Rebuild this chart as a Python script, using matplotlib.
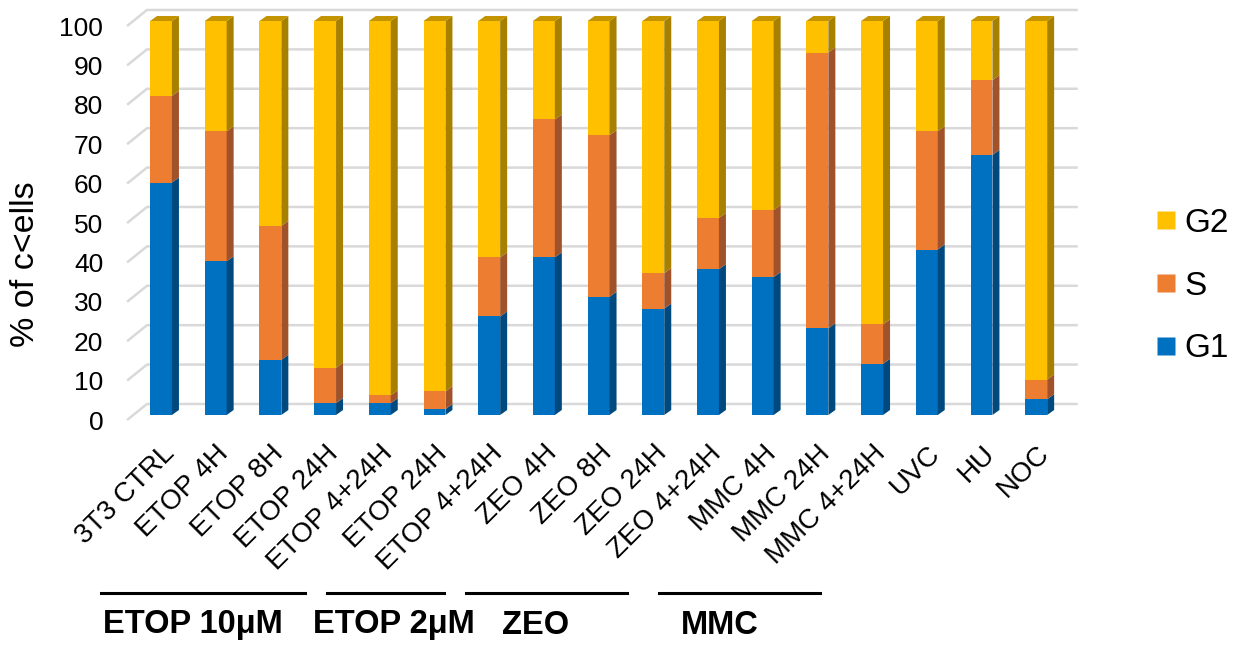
import numpy as np
import matplotlib
matplotlib.use("Agg")
import matplotlib.pyplot as plt
from matplotlib.patches import Polygon
from matplotlib.lines import Line2D

plt.rcParams['font.family'] = ['Liberation Sans', 'DejaVu Sans']

categories = ['3T3 CTRL', 'ETOP 4H', 'ETOP 8H', 'ETOP 24H', 'ETOP 4+24H',
              'ETOP 24H', 'ETOP 4+24H', 'ZEO 4H', 'ZEO 8H', 'ZEO 24H',
              'ZEO 4+24H', 'MMC 4H', 'MMC 24H', 'MMC 4+24H', 'UVC', 'HU', 'NOC']
g1 = [59, 39, 14, 3, 3, 1.5, 25, 40, 30, 27, 37, 35, 22, 13, 42, 66, 4]
s = [22, 33, 34, 9, 2, 4.5, 15, 35, 41, 9, 13, 17, 70, 10, 30, 19, 5]
g2 = [19, 28, 52, 88, 95, 94, 60, 25, 29, 64, 50, 48, 8, 77, 28, 15, 91]
series_names = ['G1', 'S', 'G2']
yticks = np.arange(0, 101, 10)
groups = ['ETOP 10\u03bcM', 'ETOP 2\u03bcM', 'ZEO', 'MMC']

# front / side / top face colours per series
front = ['#0070C0', '#ED7D31', '#FFC000']
side = ['#00497E', '#A0522A', '#A88000']
top = ['#00579A', '#B85F22', '#C49400']

W, H = 1243, 645
fig = plt.figure(figsize=(W / 100, H / 100), dpi=100)
ax = fig.add_axes([120 / W, 1 - 425 / H, 965 / W, 420 / H])
ax.set_xlim(-0.7495, 16.892)
ax.set_ylim(-2.538, 104.06)
for sp in ax.spines.values():
    sp.set_visible(False)

bw = 0.40     # bar front width
dx = 0.128    # depth offset x
dy = 1.27     # depth offset y

# back wall gridlines with the little diagonal on the left wall
for v in yticks:
    ax.plot([-0.62, -0.256, 16.76], [v - 1.27, v + 2.8, v + 2.8],
            color='#D9D9D9', lw=1.8, zorder=0, solid_capstyle='butt')

x = np.arange(len(categories))
data = [g1, s, g2]
bottom = np.zeros(len(categories))
for k, vals in enumerate(data):
    vals = np.array(vals, dtype=float)
    ax.bar(x, vals, bw, bottom=bottom, color=front[k], zorder=3,
           label=series_names[k])
    for i in range(len(x)):
        b, t = bottom[i], bottom[i] + vals[i]
        xr = x[i] + bw / 2
        ax.add_patch(Polygon([(xr, b), (xr + dx, b + dy), (xr + dx, t + dy), (xr, t)],
                             closed=True, facecolor=side[k], edgecolor='none', zorder=3))
        if k == len(data) - 1:
            xl = x[i] - bw / 2
            ax.add_patch(Polygon([(xl, t), (xl + dx, t + dy), (xr + dx, t + dy), (xr, t)],
                                 closed=True, facecolor=top[k], edgecolor='none',
                                 zorder=3, clip_on=False))
    bottom += vals

ax.set_yticks(yticks - 1.3)
ax.set_yticklabels([str(v) for v in yticks], fontsize=19)
ax.tick_params(axis='y', length=0, pad=12)
ax.set_xticks(x)
ax.set_xticklabels(categories, fontsize=20, rotation=45, ha='right',
                   rotation_mode='anchor')
ax.tick_params(axis='x', length=0, pad=11)

fig.text(26 / W, 1 - 264 / H, '% of c<ells', rotation=90, fontsize=24.5,
         ha='center', va='center')

# legend (reverse order like the original)
handles = [Line2D([], [], marker='s', ls='none', markersize=13,
                  markerfacecolor=front[k], markeredgecolor='none')
           for k in range(3)][::-1]
fig.legend(handles, series_names[::-1], loc='center left',
           bbox_to_anchor=(1154 / W, 1 - 286 / H), frameon=False,
           fontsize=24, handletextpad=0.2, labelspacing=0.95,
           handlelength=0.7, borderpad=0, borderaxespad=0)

# treatment group underlines and labels
line_spans = [(101, 305), (327, 444), (466, 627), (659, 820)]
label_x = [193, 394, 536, 720]
for (x0, x1), lx, name in zip(line_spans, label_x, groups):
    fig.add_artist(Line2D([x0 / W, x1 / W], [1 - 593 / H, 1 - 593 / H],
                          color='black', lw=2.2))
    fig.text(lx / W, 1 - 625 / H, name, fontsize=23.5, fontweight='bold',
             ha='center', va='center')

fig.savefig('out.png', dpi=100)
